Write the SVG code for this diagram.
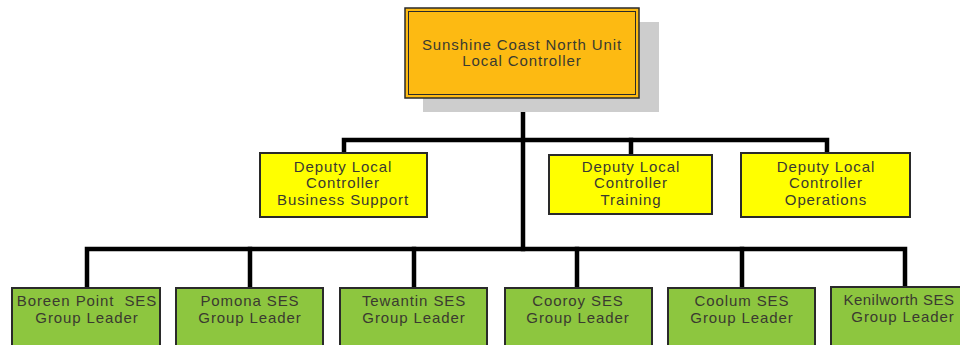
<svg xmlns="http://www.w3.org/2000/svg" width="960" height="345" viewBox="0 0 960 345">
<style>
.t{font-family:"Liberation Sans",Arial,sans-serif;font-size:15px;letter-spacing:0.9px;fill:#3a3a30;text-anchor:middle}
.top{fill:#FDBA12;stroke:#2a2a2a;stroke-width:1.5}
.dep{fill:#FFFF00;stroke:#2a2a2a;stroke-width:2}
.grp{fill:#8DC63F;stroke:#2a2a2a;stroke-width:2}
.c{stroke:#000;stroke-width:4.5;fill:none;stroke-linejoin:miter;stroke-linecap:square}
</style>
<rect width="960" height="345" fill="#fff"/>
<g id="connectors">
<path class="c" d="M523 98V249"/>
<path class="c" d="M344 153V140H827V153"/>
<path class="c" d="M631 140V155"/>
<path class="c" d="M87 288V249H905V288"/>
<path class="c" d="M250 249V288M414 249V288M577 249V288M742 249V288"/>
</g>
<g id="n-top">
<rect x="423" y="22" width="236" height="90" fill="#CDCDCD"/>
<rect class="top" x="405" y="8" width="234" height="90"/>
<rect x="408.5" y="11.5" width="227" height="83" fill="none" stroke="#2a2a2a" stroke-width="1"/>
<text class="t" x="522" y="50">Sunshine Coast North Unit</text>
<text class="t" x="522" y="66">Local Controller</text>
</g>
<g id="n-business">
<rect class="dep" x="260" y="153" width="167" height="64"/>
<text class="t" x="343" y="172">Deputy Local</text>
<text class="t" x="343" y="188">Controller</text>
<text class="t" x="343" y="205">Business Support</text>
</g>
<g id="n-training">
<rect class="dep" x="549" y="155" width="163" height="59"/>
<text class="t" x="631" y="172">Deputy Local</text>
<text class="t" x="631" y="188">Controller</text>
<text class="t" x="631" y="205">Training</text>
</g>
<g id="n-operations">
<rect class="dep" x="741" y="153" width="169" height="64"/>
<text class="t" x="826" y="172">Deputy Local</text>
<text class="t" x="826" y="188">Controller</text>
<text class="t" x="826" y="205">Operations</text>
</g>
<g id="n-boreen">
<rect class="grp" x="12" y="288" width="148" height="70"/>
<text class="t" x="87" y="306" style="white-space:pre">Boreen Point  SES</text>
<text class="t" x="87" y="323">Group Leader</text>
</g>
<g id="n-pomona">
<rect class="grp" x="176" y="288" width="147" height="70"/>
<text class="t" x="250" y="306">Pomona SES</text>
<text class="t" x="250" y="323">Group Leader</text>
</g>
<g id="n-tewantin">
<rect class="grp" x="340" y="288" width="147" height="70"/>
<text class="t" x="414" y="306">Tewantin SES</text>
<text class="t" x="414" y="323">Group Leader</text>
</g>
<g id="n-cooroy">
<rect class="grp" x="505" y="288" width="147" height="70"/>
<text class="t" x="578" y="306">Cooroy SES</text>
<text class="t" x="578" y="323">Group Leader</text>
</g>
<g id="n-coolum">
<rect class="grp" x="668" y="288" width="147" height="70"/>
<text class="t" x="742" y="306">Coolum SES</text>
<text class="t" x="742" y="323">Group Leader</text>
</g>
<g id="n-kenilworth">
<rect class="grp" x="831" y="287" width="150" height="70"/>
<text class="t" x="899" y="305" style="letter-spacing:0.5px">Kenilworth SES</text>
<text class="t" x="903" y="322">Group Leader</text>
</g>
</svg>
